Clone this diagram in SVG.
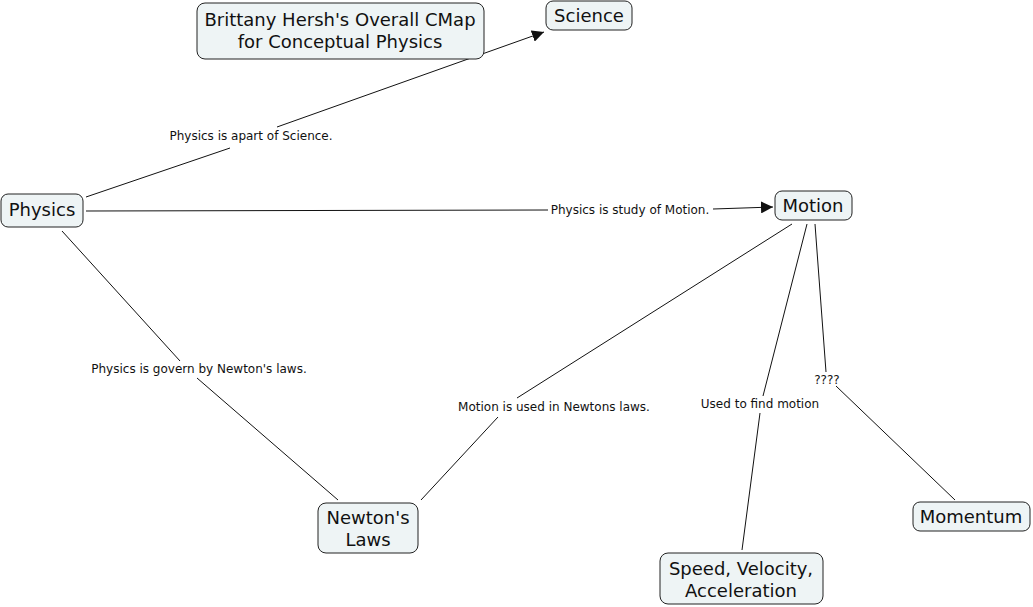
<svg xmlns="http://www.w3.org/2000/svg" width="1033" height="607" viewBox="0 0 1033 607">
<style>
.node rect{fill:#eef4f5;stroke:#222;stroke-width:1;}
.node text{font-family:"DejaVu Sans",Verdana,sans-serif;font-size:18px;fill:#111;text-anchor:middle;}
.lbl{font-family:"DejaVu Sans",Verdana,sans-serif;font-size:12px;fill:#111;text-anchor:middle;}
.conn line{stroke:#111;stroke-width:1;}
</style>
<defs>
<marker id="arr" viewBox="0 0 10 10" refX="10" refY="5" markerWidth="12" markerHeight="12" markerUnits="userSpaceOnUse" orient="auto">
<path d="M0,0 L10,5 L0,10 z" fill="#111"/>
</marker>
</defs>
<rect width="1033" height="607" fill="#fff"/>
<g id="connectors" class="conn">
<line x1="86" y1="197" x2="230" y2="148"/>
<line x1="277" y1="127" x2="544" y2="32" marker-end="url(#arr)"/>
<text class="lbl" x="251" y="140">Physics is apart of Science.</text>
<line x1="86" y1="211" x2="548" y2="210"/>
<line x1="713" y1="209" x2="773" y2="207" marker-end="url(#arr)"/>
<text class="lbl" x="630" y="214">Physics is study of Motion.</text>
<line x1="62" y1="231" x2="180" y2="361"/>
<line x1="197" y1="378" x2="338" y2="500"/>
<text class="lbl" x="199" y="373">Physics is govern by Newton's laws.</text>
<line x1="792" y1="224" x2="517" y2="398"/>
<line x1="498" y1="417" x2="421" y2="500"/>
<text class="lbl" x="554" y="411">Motion is used in Newtons laws.</text>
<line x1="807" y1="224" x2="763" y2="396"/>
<line x1="760" y1="413" x2="742" y2="550"/>
<text class="lbl" x="760" y="408">Used to find motion</text>
<line x1="815" y1="224" x2="826" y2="372"/>
<line x1="836" y1="386" x2="955" y2="500"/>
<text class="lbl" x="827" y="384">????</text>
</g>
<g id="title" class="node">
<rect x="197" y="3" width="287" height="56" rx="8"/>
<text x="340" y="26">Brittany Hersh's Overall CMap</text>
<text x="340" y="48">for Conceptual Physics</text>
</g>
<g id="science" class="node">
<rect x="546" y="1" width="86" height="29" rx="7"/>
<text x="589" y="22">Science</text>
</g>
<g id="physics" class="node">
<rect x="1" y="194" width="82" height="33" rx="7"/>
<text x="42" y="216">Physics</text>
</g>
<g id="motion" class="node">
<rect x="775" y="191" width="77" height="29" rx="7"/>
<text x="813" y="212">Motion</text>
</g>
<g id="newtons-laws" class="node">
<rect x="318" y="503" width="100" height="50" rx="8"/>
<text x="368" y="524">Newton's</text>
<text x="368" y="546">Laws</text>
</g>
<g id="speed" class="node">
<rect x="660" y="553" width="163" height="51" rx="8"/>
<text x="741" y="575">Speed, Velocity,</text>
<text x="741" y="597">Acceleration</text>
</g>
<g id="momentum" class="node">
<rect x="913" y="502" width="117" height="29" rx="7"/>
<text x="971" y="523">Momentum</text>
</g>
</svg>
